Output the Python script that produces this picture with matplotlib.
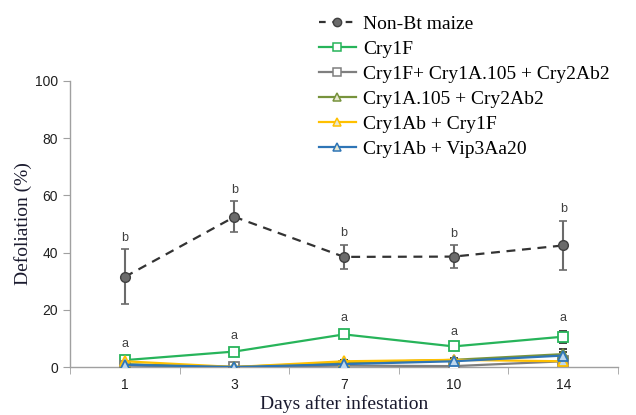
import matplotlib
matplotlib.use("Agg")
import matplotlib.pyplot as plt
from matplotlib.lines import Line2D
import numpy as np

days = ["1", "3", "7", "10", "14"]

non_bt = [31.5, 52.5, 38.5, 38.6, 42.5]
non_bt_err = [9.6, 5.4, 4.3, 3.9, 8.6]
cry1f = [2.4, 5.4, 11.4, 7.2, 10.6]
cry1f_err = [0.3, 0.3, 0.5, 0.4, 2.1]
pyr = [0.5, 0.0, 0.5, 0.3, 2.0]
pyr_err = [0.2, 0.0, 0.3, 0.2, 1.0]
cry1a105 = [1.0, 0.0, 1.5, 2.5, 4.5]
cry1a105_err = [0.3, 0.0, 0.6, 0.5, 1.8]
cry1ab_1f = [2.0, 0.0, 2.0, 2.5, 2.0]
cry1ab_1f_err = [0.4, 0.0, 0.5, 0.4, 0.6]
vip = [0.8, 0.0, 1.0, 2.0, 4.0]
vip_err = [0.3, 0.0, 0.3, 0.4, 1.2]

letters_b = ["b", "b", "b", "b", "b"]
letters_a = ["a", "a", "a", "a", "a"]
a_pos = [8.0, 11.0, 17.0, 12.2, 17.0]

x = np.arange(1, len(days) + 1)

fig = plt.figure(figsize=(6.36, 4.15), dpi=100)
ax = fig.add_axes([70 / 636, 48 / 415, 548 / 636, 286 / 415])

serif = "Liberation Serif"
sans = "Liberation Sans"

handles = []
ax.errorbar(x, non_bt, yerr=non_bt_err, color="#333333", ls=(0, (4, 3)), lw=1.6,
            marker="o", ms=7, mfc="#6b6b6b", mec="#404040", ecolor="#6b6b6b",
            elinewidth=1.5, capsize=3, capthick=1.2, zorder=5)
handles.append(Line2D([], [], color="#333333", ls=(0, (3, 3)), lw=1.6, marker="o",
                      ms=6, mfc="#6b6b6b", mec="#404040", label="Non-Bt maize"))
series = [
    (cry1f, cry1f_err, "#27b45a", "s", "Cry1F"),
    (pyr, pyr_err, "#7f7f7f", "s", "Cry1F+ Cry1A.105 + Cry2Ab2"),
    (cry1a105, cry1a105_err, "#77933c", "^", "Cry1A.105 + Cry2Ab2"),
    (cry1ab_1f, cry1ab_1f_err, "#ffc000", "^", "Cry1Ab + Cry1F"),
    (vip, vip_err, "#2e75b6", "^", "Cry1Ab + Vip3Aa20"),
]
for vals, err, col, mk, lab in series:
    face = "white" if mk == "s" else "#bdd7ee"
    ax.errorbar(x, vals, yerr=err, color=col, lw=1.6, marker=mk, ms=7,
                mfc=face, mec=col, mew=1.3,
                ecolor="#333333", elinewidth=1.2, capsize=3, zorder=4)
    handles.append(Line2D([], [], color=col, lw=1.6, marker=mk, ms=6,
                          mfc="white" if mk == "s" else "#e8e8d0", mec=col,
                          mew=1.1, label=lab))

for xi, v, e, t in zip(x, non_bt, non_bt_err, letters_b):
    ax.text(xi, v + e + 2, t, ha="center", va="bottom", fontsize=9,
            family=sans, color="#404040")
for xi, yv, t in zip(x, a_pos, letters_a):
    ax.text(xi, yv, t, ha="center", va="center", fontsize=9,
            family=sans, color="#404040")

ax.set_xlim(0.5, len(days) + 0.5)
ax.set_ylim(0, 100)
ax.set_yticks([0, 20, 40, 60, 80, 100])
ax.set_xticks(x)
ax.set_xticklabels(days)
ax.set_xticks(np.arange(0.5, len(days) + 1, 1), minor=True)
ax.tick_params(axis="x", which="major", length=0, pad=8)
ax.tick_params(axis="x", which="minor", length=5, color="#a0a0a0", direction="out")
ax.tick_params(axis="y", length=5, color="#a0a0a0", direction="out")
for lab in ax.get_xticklabels() + ax.get_yticklabels():
    lab.set_family(sans)
    lab.set_fontsize(10)
    lab.set_color("#202020")

for s in ["top", "right"]:
    ax.spines[s].set_visible(False)
for s in ["left", "bottom"]:
    ax.spines[s].set_color("#a0a0a0")
    ax.spines[s].set_linewidth(1.0)

ax.set_xlabel("Days after infestation", family=serif, fontsize=14, color="#1a1a2e", labelpad=2)
ax.set_ylabel("Defoliation (%)", family=serif, fontsize=14, color="#1a1a2e", labelpad=2)

fig.legend(handles=handles, loc="upper left", bbox_to_anchor=(305 / 636, 0.995),
           frameon=False, prop={"family": serif, "size": 14}, handlelength=1.9,
           handletextpad=0.4, labelspacing=0.38, borderaxespad=0.3)

fig.savefig("out.png", dpi=100)
